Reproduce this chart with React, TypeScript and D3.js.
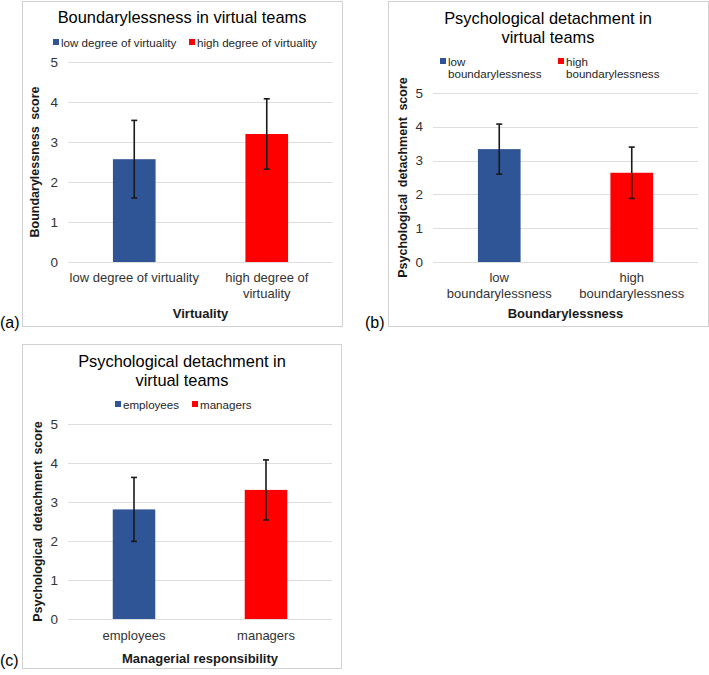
import React from "react";
import * as d3 from "d3";

// ---- Data ----
const catsA = ["low degree of virtuality", "high degree of virtuality"];
const meansA = [2.57, 3.2];
const errsA = [0.97, 0.88];

const catsB = ["low boundarylessness", "high boundarylessness"];
const meansB = [3.34, 2.64];
const errsB = [0.74, 0.76];

const catsC = ["employees", "managers"];
const meansC = [2.81, 3.31];
const errsC = [0.82, 0.77];

const yTicks = [0, 1, 2, 3, 4, 5];
const colors = ["#2F5597", "#FF0000"];

const FONT = "'Liberation Sans', Arial, Helvetica, sans-serif";

type PanelProps = {
  box: [number, number, number, number]; // x0,y0,x1,y1
  label: string;
  labelPos: [number, number];
  title: string[];
  titleX: number;
  titleY: number[];
  legend: { x: number; y: number; lines: string[] }[];
  cats: string[];
  catLines: string[][];
  means: number[];
  errs: number[];
  plot: { x0: number; x1: number; yTop: number; yBot: number };
  catY: number;
  xTitle: string;
  xTitleY: number;
  yTitle: string;
  yTitleX: number;
};

function Panel(p: PanelProps) {
  const x = d3.scaleBand<string>().domain(p.cats).range([p.plot.x0, p.plot.x1]).padding(0);
  const y = d3.scaleLinear().domain([0, 5]).range([p.plot.yBot, p.plot.yTop]);
  const bw = x.bandwidth() * 0.322;
  const midX = (p.plot.x0 + p.plot.x1) / 2;
  const midY = (p.plot.yTop + p.plot.yBot) / 2;
  return (
    <g fontFamily={FONT}>
      <rect x={p.box[0] + 0.5} y={p.box[1] + 0.5} width={p.box[2] - p.box[0]} height={p.box[3] - p.box[1]} fill="#fff" stroke="#d0d0d0" strokeWidth={1} />
      <text x={p.labelPos[0]} y={p.labelPos[1]} fontSize={16} fill="#000" dominantBaseline="central">{p.label}</text>
      {p.title.map((t, i) => (
        <text key={i} x={p.titleX} y={p.titleY[i]} fontSize={16.4} textAnchor="middle" dominantBaseline="central" fill="#000">{t}</text>
      ))}
      {p.legend.map((l, i) => (
        <g key={i}>
          <rect x={l.x} y={l.y - 3} width={6} height={6} fill={colors[i]} />
          {l.lines.map((s, j) => (
            <text key={j} x={l.x + 8} y={l.y + j * 12.5} fontSize={11.6} dominantBaseline="central" fill="#262626">{s}</text>
          ))}
        </g>
      ))}
      {yTicks.map((t) => (
        <g key={t}>
          <line x1={p.plot.x0} x2={p.plot.x1} y1={Math.round(y(t)) + 0.5} y2={Math.round(y(t)) + 0.5} stroke="#dedede" strokeWidth={1} />
          <text x={p.plot.x0 - 10} y={y(t)} fontSize={13.5} textAnchor="end" dominantBaseline="central" fill="#333">{t}</text>
        </g>
      ))}
      {p.cats.map((c, i) => {
        const cx = (x(c) as number) + x.bandwidth() / 2;
        const top = y(p.means[i] + p.errs[i]);
        const bot = y(p.means[i] - p.errs[i]);
        return (
          <g key={c}>
            <rect x={cx - bw / 2} y={y(p.means[i])} width={bw} height={y(0) - y(p.means[i])} fill={colors[i]} />
            <line x1={cx} x2={cx} y1={top} y2={bot} stroke="#1a1a1a" strokeWidth={1.6} />
            <line x1={cx - 3} x2={cx + 3} y1={top} y2={top} stroke="#1a1a1a" strokeWidth={1.6} />
            <line x1={cx - 3} x2={cx + 3} y1={bot} y2={bot} stroke="#1a1a1a" strokeWidth={1.6} />
            {p.catLines[i].map((s, j) => (
              <text key={j} x={cx} y={p.catY + j * 16} fontSize={13} textAnchor="middle" dominantBaseline="central" fill="#333">{s}</text>
            ))}
          </g>
        );
      })}
      <text x={midX} y={p.xTitleY} fontSize={13} fontWeight="bold" textAnchor="middle" dominantBaseline="central" fill="#1a1a1a">{p.xTitle}</text>
      <text transform={`translate(${p.yTitleX},${midY}) rotate(-90)`} fontSize={12.5} fontWeight="bold" textAnchor="middle" dominantBaseline="central" fill="#1a1a1a" wordSpacing={3}>{p.yTitle}</text>
    </g>
  );
}

export default function App() {
  return (
    <svg width={709} height={675} style={{ position: "absolute", left: 0, top: 0, background: "#fff" }}>
      <rect width={709} height={675} fill="#fff" />
      <Panel
        box={[22, 1, 342, 326]}
        label="(a)"
        labelPos={[0, 322]}
        title={["Boundarylessness in virtual teams"]}
        titleX={182}
        titleY={[17]}
        legend={[
          { x: 53, y: 42, lines: ["low degree of virtuality"] },
          { x: 189, y: 42, lines: ["high degree of virtuality"] },
        ]}
        cats={catsA}
        catLines={[["low degree of virtuality"], ["high degree of", "virtuality"]]}
        means={meansA}
        errs={errsA}
        plot={{ x0: 68, x1: 333, yTop: 62, yBot: 262 }}
        catY={277}
        xTitle="Virtuality"
        xTitleY={313}
        yTitle="Boundarylessness score"
        yTitleX={35}
      />
      <Panel
        box={[388, 1, 708, 326]}
        label="(b)"
        labelPos={[365, 322]}
        title={["Psychological detachment in", "virtual teams"]}
        titleX={548}
        titleY={[18, 37]}
        legend={[
          { x: 440, y: 61, lines: ["low", "boundarylessness"] },
          { x: 558, y: 61, lines: ["high", "boundarylessness"] },
        ]}
        cats={catsB}
        catLines={[["low", "boundarylessness"], ["high", "boundarylessness"]]}
        means={meansB}
        errs={errsB}
        plot={{ x0: 433, x1: 698, yTop: 93, yBot: 262 }}
        catY={277}
        xTitle="Boundarylessness"
        xTitleY={313}
        yTitle="Psychological detachment score"
        yTitleX={403}
      />
      <Panel
        box={[22, 344, 341, 668]}
        label="(c)"
        labelPos={[0, 660]}
        title={["Psychological detachment in", "virtual teams"]}
        titleX={182}
        titleY={[361, 380]}
        legend={[
          { x: 115, y: 404, lines: ["employees"] },
          { x: 192, y: 404, lines: ["managers"] },
        ]}
        cats={catsC}
        catLines={[["employees"], ["managers"]]}
        means={meansC}
        errs={errsC}
        plot={{ x0: 68, x1: 332, yTop: 424, yBot: 619 }}
        catY={635}
        xTitle="Managerial responsibility"
        xTitleY={658}
        yTitle="Psychological detachment score"
        yTitleX={38}
      />
    </svg>
  );
}
